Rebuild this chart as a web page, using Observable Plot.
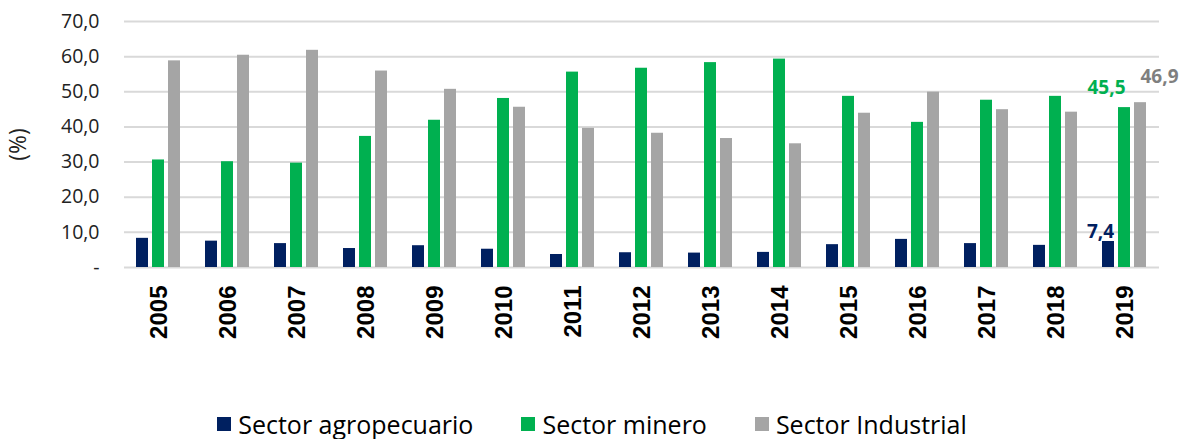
<!DOCTYPE html>
<html><head><meta charset="utf-8">
<script src="https://cdn.jsdelivr.net/npm/d3@7"></script>
<script src="https://cdn.jsdelivr.net/npm/@observablehq/plot@0.6"></script>
<style>
body{margin:0;background:#fff;font-family:"Open Sans",sans-serif;width:1184px;height:439px;position:relative;overflow:hidden}
#chart svg{display:block}
#legend{position:absolute;left:0;top:407px;width:1184px;display:flex;justify-content:center;align-items:center;gap:48px;font-size:25px;color:#000;box-sizing:border-box}
#legend .item{display:flex;align-items:center;gap:7px}
#legend .sw{width:14px;height:14px;display:inline-block}
</style></head><body>
<div id="chart"></div><div id="legend"></div>
<script>
const years = ["2005","2006","2007","2008","2009","2010","2011","2012","2013","2014","2015","2016","2017","2018","2019"];
const series = ["Sector agropecuario","Sector minero","Sector Industrial"];
const agro = [8.3,7.5,6.8,5.4,6.2,5.2,3.7,4.2,4.1,4.3,6.5,8.0,6.8,6.3,7.4];
const minero = [30.6,30.1,29.7,37.3,41.9,48.1,55.6,56.7,58.3,59.3,48.7,41.3,47.6,48.7,45.5];
const industrial = [58.8,60.4,61.8,55.9,50.7,45.6,39.6,38.2,36.7,35.2,43.9,49.9,44.9,44.2,46.9];
const colors = ["#002060","#00B050","#A5A5A5"];
const labelColors = ["#002060","#00B050","#7F7F7F"];
const yTicks = [0,10,20,30,40,50,60,70];
const labelYear = "2019";

const values = [agro, minero, industrial];
const data = years.flatMap((y,i)=>series.map((s,j)=>({year:y, series:s, value:values[j][i]})));
const fmt = v => v === 0 ? "-" : v.toFixed(1).replace(".", ",");

const labelOffsets = [{dx:-8,dy:-10},{dx:-18,dy:-20},{dx:19,dy:-26}];
const labelMarks = series.map((s,j)=>Plot.text(data.filter(d=>d.year===labelYear && d.series===s), {
  fx:"year", x:"series", y:"value", text:d=>fmt(d.value), fill:labelColors[j],
  dx:labelOffsets[j].dx, dy:labelOffsets[j].dy, lineAnchor:"middle",
  fontWeight:"bold", fontSize:19, fontFamily:"Open Sans"
}));

const chart = Plot.plot({
  width:1184, height:400,
  marginTop:21, marginBottom:133, marginLeft:121, marginRight:22,
  style:{fontFamily:"Open Sans", background:"#fff", color:"#000"},
  fx:{domain:years, padding:0, label:null},
  x:{domain:series, paddingInner:0.22, paddingOuter:0.75, axis:null},
  y:{domain:[0,70]},
  color:{domain:series, range:colors},
  marks:[
    Plot.ruleY(yTicks, {stroke:"#d9d9d9", strokeWidth:2}),
    Plot.barY(data, {fx:"year", x:"series", y:"value", fill:"series"}),
    Plot.axisY({ticks:yTicks, tickSize:0, tickPadding:25, tickFormat:fmt, fontSize:19.5, fill:"#222", label:null}),
    Plot.axisY({ticks:[], tickSize:0, fontSize:23, fill:"#222",
      label:"(%)", labelAnchor:"center", labelArrow:"none", labelOffset:115}),
    Plot.axisFx({anchor:"bottom", tickRotate:-90, tickSize:0, tickPadding:18, fontSize:24, fontWeight:"bold",
      fontFamily:"Liberation Sans", fill:"#000", label:null}),
    ...labelMarks
  ]
});
document.getElementById("chart").appendChild(chart);

const legend = document.getElementById("legend");
series.forEach((s,j)=>{
  const it = document.createElement("div"); it.className="item";
  const sw = document.createElement("span"); sw.className="sw"; sw.style.background=colors[j];
  const tx = document.createElement("span"); tx.textContent=s;
  it.appendChild(sw); it.appendChild(tx); legend.appendChild(it);
});
</script>
</body></html>
